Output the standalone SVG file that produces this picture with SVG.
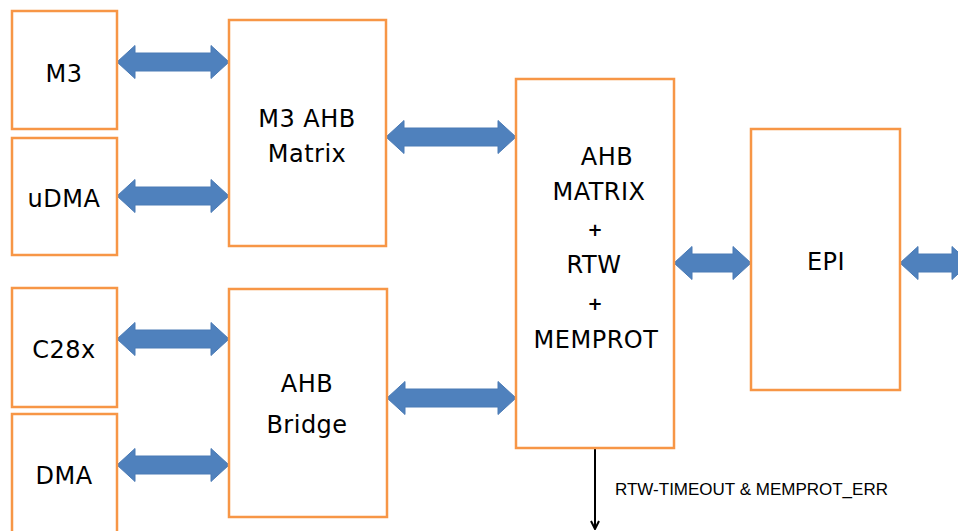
<svg xmlns="http://www.w3.org/2000/svg" width="958" height="531" viewBox="0 0 958 531">
<style>
.box{fill:#fff;stroke:#F79646;stroke-width:2.5}
.lbl{font-family:"DejaVu Sans",sans-serif;font-size:24px;fill:#000;text-anchor:middle;letter-spacing:0.5px}
.plus{font-family:"DejaVu Sans",sans-serif;font-size:18px;font-weight:bold;fill:#000;text-anchor:middle}
.ba{fill:#4F81BD;stroke:#4A7AB5;stroke-width:1}
.sig{font-family:"Liberation Sans",Arial,sans-serif;font-size:17px;fill:#000}
</style>
<defs>
<marker id="ah" viewBox="0 0 10 10" refX="9" refY="5" markerWidth="10" markerHeight="10" markerUnits="userSpaceOnUse" orient="auto">
<path d="M1,1 L9,5 L1,9" fill="none" stroke="#000" stroke-width="2"/>
</marker>
</defs>
<rect width="958" height="531" fill="#fff"/>
<g id="connectors">
<polygon class="ba" points="117,62 135,45.5 135,53 211,53 211,45.5 229,62 211,78.5 211,71 135,71 135,78.5"/>
<polygon class="ba" points="117,196 135,179.5 135,187 211,187 211,179.5 229,196 211,212.5 211,205 135,205 135,212.5"/>
<polygon class="ba" points="386,137 404,120.5 404,128 498,128 498,120.5 516,137 498,153.5 498,146 404,146 404,153.5"/>
<polygon class="ba" points="117,339 135,322.5 135,330 211,330 211,322.5 229,339 211,355.5 211,348 135,348 135,355.5"/>
<polygon class="ba" points="117,465 135,448.5 135,456 211,456 211,448.5 229,465 211,481.5 211,474 135,474 135,481.5"/>
<polygon class="ba" points="387,398 405,381.5 405,389 498,389 498,381.5 516,398 498,414.5 498,407 405,407 405,414.5"/>
<polygon class="ba" points="674,263 692,246.5 692,254 733,254 733,246.5 751,263 733,279.5 733,272 692,272 692,279.5"/>
<polygon class="ba" points="900,263 918,246.5 918,254 952,254 952,246.5 970,263 952,279.5 952,272 918,272 918,279.5"/>
<line x1="595" y1="448" x2="595" y2="529" stroke="#000" stroke-width="2" marker-end="url(#ah)"/>
<text class="sig" x="615" y="495">RTW-TIMEOUT &amp; MEMPROT_ERR</text>
</g>
<g id="m3"><rect class="box" x="12" y="11" width="105" height="118"/><text class="lbl" x="64" y="82">M3</text></g>
<g id="udma"><rect class="box" x="12" y="138" width="105" height="117"/><text class="lbl" x="64" y="207">uDMA</text></g>
<g id="c28x"><rect class="box" x="12" y="288" width="105" height="119"/><text class="lbl" x="64" y="358">C28x</text></g>
<g id="dma"><rect class="box" x="12" y="414" width="105" height="130"/><text class="lbl" x="64" y="484">DMA</text></g>
<g id="m3ahb"><rect class="box" x="229" y="20" width="157" height="226"/><text class="lbl" x="307" y="127">M3 AHB</text><text class="lbl" x="307" y="162">Matrix</text></g>
<g id="bridge"><rect class="box" x="229" y="289" width="158" height="228"/><text class="lbl" x="307" y="392">AHB</text><text class="lbl" x="307" y="433">Bridge</text></g>
<g id="ahbmatrix"><rect class="box" x="516" y="79" width="158" height="369"/>
<text class="lbl" x="607" y="165">AHB</text>
<text class="lbl" x="599" y="200">MATRIX</text>
<text class="plus" x="595" y="236">+</text>
<text class="lbl" x="594" y="273">RTW</text>
<text class="plus" x="595" y="310">+</text>
<text class="lbl" x="596" y="348">MEMPROT</text>
</g>
<g id="epi"><rect class="box" x="751" y="129" width="149" height="261"/><text class="lbl" x="826" y="270">EPI</text></g>
</svg>
